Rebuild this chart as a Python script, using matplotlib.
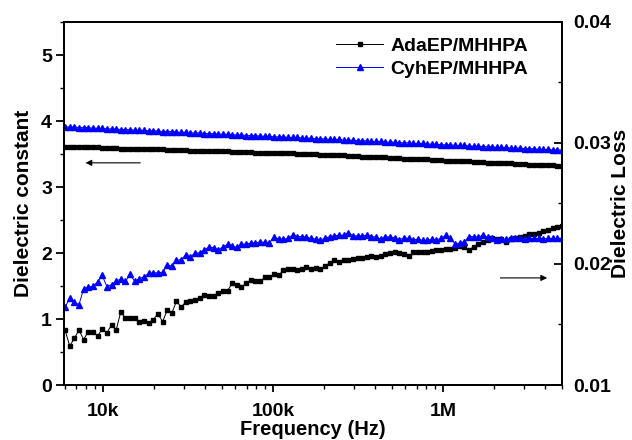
import numpy as np
import matplotlib
matplotlib.use("Agg")
import matplotlib.pyplot as plt
from matplotlib.ticker import FixedLocator, LogLocator, MultipleLocator, NullFormatter

plt.rcParams['font.family'] = ['Liberation Sans', 'DejaVu Sans']
plt.rcParams['font.weight'] = 'bold'

# measurement sweep: 108 log-spaced frequencies, 6 kHz .. 5 MHz
freq = np.logspace(np.log10(6e3), np.log10(5e6), 108)

names = ['AdaEP/MHHPA', 'CyhEP/MHHPA']

eps_ada = [3.61, 3.61, 3.61, 3.60, 3.60, 3.60, 3.60, 3.60, 3.59, 3.59,
           3.59, 3.59, 3.58, 3.58, 3.58, 3.58, 3.58, 3.57, 3.57, 3.57,
           3.57, 3.57, 3.56, 3.56, 3.56, 3.56, 3.56, 3.55, 3.55, 3.55,
           3.55, 3.54, 3.54, 3.54, 3.54, 3.54, 3.53, 3.53, 3.53, 3.53,
           3.53, 3.52, 3.52, 3.52, 3.52, 3.52, 3.51, 3.51, 3.51, 3.51,
           3.50, 3.50, 3.50, 3.50, 3.50, 3.49, 3.49, 3.49, 3.48, 3.48,
           3.48, 3.47, 3.47, 3.47, 3.46, 3.46, 3.46, 3.45, 3.45, 3.45,
           3.44, 3.44, 3.44, 3.43, 3.43, 3.43, 3.42, 3.42, 3.42, 3.41,
           3.41, 3.41, 3.40, 3.40, 3.40, 3.39, 3.39, 3.39, 3.38, 3.38,
           3.38, 3.37, 3.37, 3.37, 3.36, 3.36, 3.36, 3.35, 3.35, 3.35,
           3.34, 3.34, 3.34, 3.33, 3.33, 3.33, 3.32, 3.32]

eps_cyh = [3.91, 3.91, 3.91, 3.90, 3.90, 3.90, 3.89, 3.89, 3.89, 3.88,
           3.88, 3.88, 3.87, 3.87, 3.87, 3.86, 3.86, 3.86, 3.85, 3.85,
           3.85, 3.84, 3.84, 3.84, 3.83, 3.83, 3.83, 3.82, 3.82, 3.82,
           3.81, 3.81, 3.81, 3.80, 3.80, 3.80, 3.79, 3.79, 3.79, 3.78,
           3.78, 3.78, 3.77, 3.77, 3.77, 3.76, 3.76, 3.76, 3.75, 3.75,
           3.75, 3.74, 3.74, 3.74, 3.73, 3.73, 3.73, 3.72, 3.72, 3.72,
           3.71, 3.71, 3.71, 3.70, 3.70, 3.70, 3.69, 3.69, 3.69, 3.68,
           3.68, 3.68, 3.67, 3.67, 3.67, 3.66, 3.66, 3.66, 3.65, 3.65,
           3.65, 3.64, 3.64, 3.64, 3.63, 3.63, 3.63, 3.62, 3.62, 3.62,
           3.61, 3.61, 3.61, 3.60, 3.60, 3.60, 3.59, 3.59, 3.59, 3.58,
           3.58, 3.58, 3.57, 3.57, 3.57, 3.56, 3.56, 3.56]

loss_ada = [0.01453, 0.01322, 0.01387, 0.01453, 0.01376, 0.01442, 0.01442, 0.01404, 0.01464, 0.01431,
            0.01496, 0.01453, 0.01605, 0.01551, 0.01556, 0.01551, 0.01518, 0.01529, 0.01513, 0.01540,
            0.01589, 0.01524, 0.01616, 0.01595, 0.01693, 0.01644, 0.01687, 0.01693, 0.01704, 0.01720,
            0.01742, 0.01736, 0.01736, 0.01764, 0.01775, 0.01780, 0.01840, 0.01829, 0.01813, 0.01840,
            0.01867, 0.01856, 0.01856, 0.01889, 0.01889, 0.01916, 0.01905, 0.01949, 0.01960, 0.01955,
            0.01949, 0.01955, 0.01976, 0.01960, 0.01966, 0.01955, 0.01982, 0.02009, 0.02031, 0.02020,
            0.02031, 0.02036, 0.02042, 0.02047, 0.02047, 0.02058, 0.02064, 0.02058, 0.02069, 0.02080,
            0.02091, 0.02096, 0.02091, 0.02080, 0.02064, 0.02096, 0.02096, 0.02102, 0.02102, 0.02107,
            0.02113, 0.02118, 0.02124, 0.02124, 0.02135, 0.02145, 0.02140, 0.02118, 0.02140, 0.02162,
            0.02184, 0.02200, 0.02211, 0.02206, 0.02206, 0.02184, 0.02206, 0.02217, 0.02222, 0.02233,
            0.02244, 0.02249, 0.02260, 0.02271, 0.02282, 0.02298, 0.02309, 0.02315]

loss_cyh = [0.01644, 0.01715, 0.01682, 0.01665, 0.01796, 0.01807, 0.01818, 0.01851, 0.01905, 0.01813,
            0.01829, 0.01862, 0.01873, 0.01856, 0.01916, 0.01856, 0.01878, 0.01895, 0.01922, 0.01927,
            0.01927, 0.01933, 0.01993, 0.01982, 0.02031, 0.02036, 0.02075, 0.02058, 0.02091, 0.02091,
            0.02118, 0.02140, 0.02135, 0.02118, 0.02140, 0.02162, 0.02145, 0.02140, 0.02162, 0.02167,
            0.02173, 0.02173, 0.02184, 0.02178, 0.02173, 0.02227, 0.02206, 0.02206, 0.02211, 0.02238,
            0.02227, 0.02227, 0.02222, 0.02211, 0.02206, 0.02200, 0.02211, 0.02227, 0.02233, 0.02238,
            0.02238, 0.02260, 0.02233, 0.02233, 0.02233, 0.02238, 0.02227, 0.02222, 0.02206, 0.02227,
            0.02222, 0.02217, 0.02200, 0.02217, 0.02211, 0.02200, 0.02206, 0.02195, 0.02195, 0.02206,
            0.02200, 0.02211, 0.02238, 0.02211, 0.02167, 0.02173, 0.02184, 0.02227, 0.02227, 0.02222,
            0.02238, 0.02222, 0.02211, 0.02195, 0.02206, 0.02206, 0.02211, 0.02211, 0.02211, 0.02206,
            0.02211, 0.02211, 0.02211, 0.02206, 0.02211, 0.02211, 0.02211, 0.02211]

fig = plt.figure(figsize=(6.32, 4.40), dpi=100)
ax1 = fig.add_axes([0.101, 0.125, 0.788, 0.825])
ax2 = ax1.twinx()

ax1.plot(freq, eps_ada, color='black', lw=0.7, marker='s', ms=3.4, label=names[0])
ax1.plot(freq, eps_cyh, color='blue', lw=0.7, marker='^', ms=4.0, label=names[1])
ax2.plot(freq, loss_ada, color='black', lw=0.7, marker='s', ms=3.4)
ax2.plot(freq, loss_cyh, color='blue', lw=0.7, marker='^', ms=4.0)

ax1.set_xscale('log')
ax1.set_xlim(5.9e3, 5.0e6)
ax1.set_ylim(0, 5.5)
ax2.set_ylim(0.01, 0.04)

ax1.xaxis.set_major_locator(FixedLocator([1e4, 1e5, 1e6]))
ax1.set_xticklabels(['10k', '100k', '1M'])
ax1.xaxis.set_minor_locator(LogLocator(base=10, subs=np.arange(2, 10)))
ax1.xaxis.set_minor_formatter(NullFormatter())
ax1.yaxis.set_major_locator(MultipleLocator(1))
ax1.yaxis.set_minor_locator(MultipleLocator(0.5))
ax2.yaxis.set_major_locator(MultipleLocator(0.01))
ax2.yaxis.set_minor_locator(MultipleLocator(0.005))
ax2.set_yticks([0.01, 0.02, 0.03, 0.04])
ax2.set_yticklabels(['0.01', '0.02', '0.03', '0.04'])

ax1.tick_params(axis='x', which='major', direction='out', length=5, width=1.3, labelsize=14, pad=8)
ax1.tick_params(axis='x', which='minor', direction='out', length=3, width=1.0)
ax1.tick_params(axis='y', which='major', direction='out', length=5.5, width=1.3, labelsize=14, pad=3)
ax1.tick_params(axis='y', which='minor', direction='out', length=3, width=1.0)
ax2.tick_params(axis='y', which='major', direction='in', length=5.5, width=1.3, labelsize=14, pad=8)
ax2.tick_params(axis='y', which='minor', direction='in', length=3, width=1.0)

for ax in (ax1, ax2):
    for sp in ax.spines.values():
        sp.set_linewidth(1.3)

ax1.set_xlabel('Frequency (Hz)', fontsize=14.5, fontweight='bold', labelpad=0)
ax1.set_ylabel('Dielectric constant', fontsize=15, fontweight='bold', labelpad=6)
ax2.set_ylabel('Dielectric Loss', fontsize=15, fontweight='bold', labelpad=0)

ax2.annotate('', xy=(0.038, 0.612), xytext=(0.159, 0.612), xycoords='axes fraction',
             arrowprops=dict(arrowstyle='-|>', color='black', lw=0.8, mutation_scale=9))
ax2.annotate('', xy=(0.976, 0.295), xytext=(0.871, 0.295), xycoords='axes fraction',
             arrowprops=dict(arrowstyle='-|>', color='black', lw=0.8, mutation_scale=9))

h, l = ax1.get_legend_handles_labels()
ax2.legend(h, l, loc='upper right', bbox_to_anchor=(0.968, 1.005), frameon=False,
           handlelength=2.4, handletextpad=0.4, labelspacing=0.25,
           prop={'weight': 'bold', 'size': 14})

fig.savefig('out.png', dpi=100)
